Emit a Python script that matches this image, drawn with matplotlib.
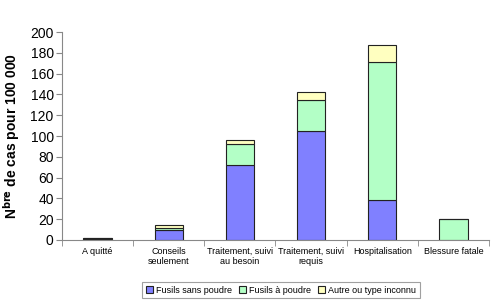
import matplotlib
matplotlib.use("Agg")
import matplotlib.pyplot as plt
import numpy as np

categories = ["A quitté", "Conseils\nseulement", "Traitement, suivi\nau besoin",
              "Traitement, suivi\nrequis", "Hospitalisation", "Blessure fatale"]
sans_poudre = [0.5, 10, 72, 104.5, 38.5, 0.3]
a_poudre = [1.5, 1, 20, 30, 132.5, 20]
autre = [0, 3, 4, 7.5, 17, 0]
series_names = ["Fusils sans poudre", "Fusils à poudre", "Autre ou type inconnu"]
yticks = [0, 20, 40, 60, 80, 100, 120, 140, 160, 180, 200]

plt.rcParams['font.family'] = ['Liberation Sans', 'DejaVu Sans']
fig = plt.figure(figsize=(5.0, 3.06), dpi=100)
ax = fig.add_axes([0.124, 0.216, 0.854, 0.679])

x = np.arange(len(categories))
w = 0.4
colors = ["#8080FF", "#B3FFC6", "#FFFFC0"]
bottom = np.zeros(len(categories))
for vals, c, name in zip([sans_poudre, a_poudre, autre], colors, series_names):
    ax.bar(x, vals, w, bottom=bottom, color=c, edgecolor="#222222", linewidth=0.8, label=name)
    bottom += np.array(vals)

ax.set_xlim(-0.5, len(categories) - 0.5)
ax.set_ylim(0, 200)
ax.set_yticks(yticks)
ax.set_yticklabels([str(v) for v in yticks], fontsize=10)
ax.set_xticks(x)
ax.set_xticklabels(categories, fontsize=6.5)
ax.tick_params(axis='x', length=0, pad=5)
ax.set_xticks(np.arange(-0.5, len(categories)), minor=True)
ax.tick_params(axis='x', which='minor', length=4, color="#888888", direction='out')
ax.tick_params(axis='y', length=4, color="#888888", direction='out', pad=2)
for s in ["top", "right"]:
    ax.spines[s].set_visible(False)
for s in ["left", "bottom"]:
    ax.spines[s].set_color("#888888")
    ax.spines[s].set_linewidth(0.8)

ax.set_ylabel(r"N$^{\mathbf{bre}}$ de cas pour 100 000", fontsize=10, fontweight='bold', labelpad=6)

leg = fig.legend(loc='center', bbox_to_anchor=(0.562, 0.052), ncol=3, fontsize=6.5,
                 frameon=True, fancybox=False, edgecolor="#888888", handlelength=0.8,
                 handleheight=0.8, handletextpad=0.3, columnspacing=0.8, borderpad=0.4)
leg.get_frame().set_linewidth(0.8)

fig.savefig("out.png", dpi=100)
